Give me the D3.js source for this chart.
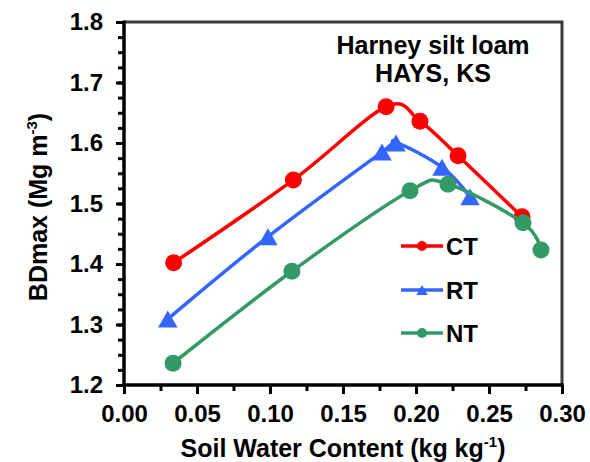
<!DOCTYPE html>
<html>
<head>
<meta charset="utf-8">
<script src="https://cdn.jsdelivr.net/npm/d3@7"></script>
<style>
  html, body { margin: 0; padding: 0; background: #fff; }
  svg { display: block; }
  text { font-family: "Liberation Sans", Arial, sans-serif; font-weight: bold; fill: #000; }
</style>
</head>
<body>
<svg id="chart" width="590" height="462"></svg>
<script>
// ---- data ----
const seriesNames = ["CT", "RT", "NT"];
const swcCT = [0.034, 0.116, 0.1795, 0.2027, 0.2288, 0.2726];
const bdCT  = [1.402, 1.539, 1.660, 1.636, 1.579, 1.478];
const swcRT = [0.030, 0.0986, 0.1767, 0.1863, 0.2178, 0.2370];
const bdRT  = [1.309, 1.445, 1.585, 1.600, 1.560, 1.511];
const swcNT = [0.0336, 0.115, 0.1959, 0.2219, 0.2733, 0.2856];
const bdNT  = [1.236, 1.388, 1.521, 1.532, 1.468, 1.423];
const xTicks = [0.00, 0.05, 0.10, 0.15, 0.20, 0.25, 0.30];
const yTicks = [1.2, 1.3, 1.4, 1.5, 1.6, 1.7, 1.8];
const titleLines = ["Harney silt loam", "HAYS, KS"];

// ---- layout ----
const svg = d3.select("#chart");
const m = { left: 124, right: 562, top: 22, bottom: 385 };
const x = d3.scaleLinear().domain([0, 0.30]).range([m.left, m.right]);
const y = d3.scaleLinear().domain([1.2, 1.8]).range([m.bottom, m.top]);

const series = [
  { name: "CT", xs: swcCT, ys: bdCT, color: "#FF0000", marker: "circle" },
  { name: "RT", xs: swcRT, ys: bdRT, color: "#3366FF", marker: "triangle" },
  { name: "NT", xs: swcNT, ys: bdNT, color: "#339966", marker: "circle" }
];

// frame (top & right)
svg.append("path")
  .attr("d", `M${m.left},${m.top}H${m.right}V${m.bottom}`)
  .attr("fill", "none").attr("stroke", "#3a3a3a").attr("stroke-width", 3);

// x axis with minor ticks
const xMinor = d3.range(0, 0.3001, 0.025);
svg.append("g").attr("transform", `translate(0,${m.bottom})`)
  .call(d3.axisBottom(x).tickValues(xMinor).tickSize(6).tickFormat(""))
  .call(g => g.select(".domain").remove())
  .call(g => g.selectAll("line").attr("stroke", "#000").attr("stroke-width", 3));
svg.append("g").attr("transform", `translate(0,${m.bottom})`)
  .call(d3.axisBottom(x).tickValues(xTicks).tickSize(9).tickPadding(11).tickFormat(d3.format(".2f")))
  .call(g => g.select(".domain").remove())
  .call(g => g.selectAll("line").attr("stroke", "#000").attr("stroke-width", 3))
  .call(g => g.selectAll("text").attr("font-size", 24).attr("fill", "#000"));

// y axis with minor ticks
const yMinor = d3.range(1.2, 1.8001, 0.025);
svg.append("g").attr("transform", `translate(${m.left},0)`)
  .call(d3.axisLeft(y).tickValues(yMinor).tickSize(6).tickFormat(""))
  .call(g => g.select(".domain").remove())
  .call(g => g.selectAll("line").attr("stroke", "#000").attr("stroke-width", 3));
svg.append("g").attr("transform", `translate(${m.left},0)`)
  .call(d3.axisLeft(y).tickValues(yTicks).tickSize(8).tickPadding(13).tickFormat(d3.format(".1f")))
  .call(g => g.select(".domain").remove())
  .call(g => g.selectAll("line").attr("stroke", "#000").attr("stroke-width", 3))
  .call(g => g.selectAll("text").attr("font-size", 24).attr("fill", "#000"));

// axis lines
svg.append("line").attr("x1", m.left).attr("x2", m.left).attr("y1", m.top - 1.5).attr("y2", m.bottom + 1.5)
  .attr("stroke", "#000").attr("stroke-width", 3.5);
svg.append("line").attr("x1", m.left - 1.5).attr("x2", m.right + 1.5).attr("y1", m.bottom).attr("y2", m.bottom)
  .attr("stroke", "#000").attr("stroke-width", 3.5);

// marker shapes
function trianglePath(s) {
  const h = s * Math.sqrt(3) / 2;
  return `M0,${-h/2}L${s/2},${h/2}L${-s/2},${h/2}Z`;
}
function drawMarker(g, type, color, cx, cy, size) {
  if (type === "circle") {
    g.append("circle").attr("cx", cx).attr("cy", cy).attr("r", size / 2).attr("fill", color);
  } else {
    g.append("path").attr("d", trianglePath(size * 1.15))
      .attr("transform", `translate(${cx},${cy})`).attr("fill", color);
  }
}

// series
const line = d3.line().curve(d3.curveCatmullRom.alpha(0));
series.forEach(s => {
  const pts = s.xs.map((v, i) => [x(v), y(s.ys[i])]);
  const g = svg.append("g");
  g.append("path").attr("d", line(pts)).attr("fill", "none")
    .attr("stroke", s.color).attr("stroke-width", 3.5).attr("stroke-linejoin", "round");
  pts.forEach(p => drawMarker(g, s.marker, s.color, p[0], p[1], 17));
});

// title
svg.append("text").attr("x", 433).attr("y", 54).attr("text-anchor", "middle")
  .attr("font-size", 25).text(titleLines[0]);
svg.append("text").attr("x", 433).attr("y", 82).attr("text-anchor", "middle")
  .attr("font-size", 25).text(titleLines[1]);

// legend
const legY = [246, 290, 333];
series.forEach((s, i) => {
  const g = svg.append("g");
  g.append("line").attr("x1", 401).attr("x2", 443).attr("y1", legY[i]).attr("y2", legY[i])
    .attr("stroke", s.color).attr("stroke-width", 3.5);
  drawMarker(g, s.marker, s.color, 422, legY[i], 10);
  g.append("text").attr("x", 446).attr("y", legY[i]).attr("dy", "0.36em")
    .attr("font-size", 24).text(seriesNames[i]);
});

// axis titles
const xt = svg.append("text").attr("x", 343).attr("y", 457).attr("text-anchor", "middle").attr("font-size", 25);
xt.append("tspan").text("Soil Water Content (kg kg");
xt.append("tspan").attr("font-size", 15).attr("dy", -10).text("-1");
xt.append("tspan").attr("dy", 10).text(")");

const yt = svg.append("text").attr("transform", "translate(47,207) rotate(-90)")
  .attr("text-anchor", "middle").attr("font-size", 25);
yt.append("tspan").text("BDmax (Mg m");
yt.append("tspan").attr("font-size", 15).attr("dy", -10).text("-3");
yt.append("tspan").attr("dy", 10).text(")");
</script>
</body>
</html>
